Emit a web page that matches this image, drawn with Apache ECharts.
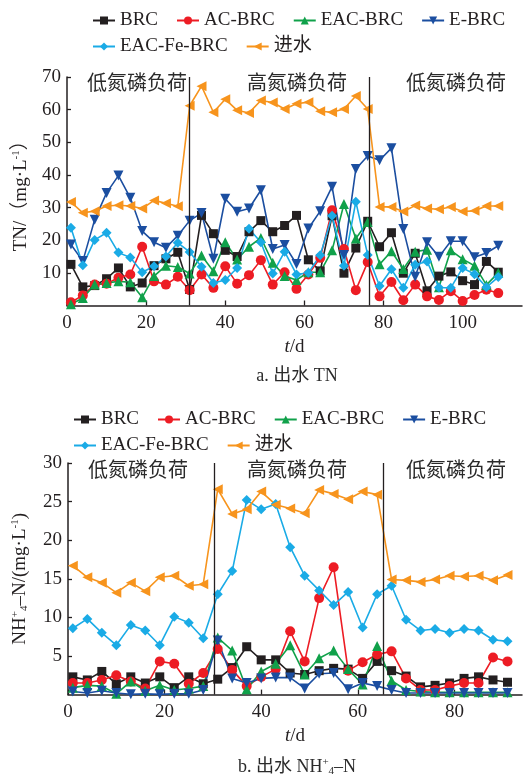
<!DOCTYPE html>
<html>
<head>
<meta charset="utf-8">
<script src="https://cdn.jsdelivr.net/npm/echarts@6/dist/echarts.min.js"></script>
<style>
  html, body { margin: 0; padding: 0; background: #fff; }
  #tn { width: 524px; height: 390px; }
  #nh { width: 524px; height: 387px; }
</style>
</head>
<body>
<div id="tn"></div>
<div id="nh"></div>
<script>
// 运行天数
const daysA = [1, 4, 7, 10, 13, 16, 19, 22, 25, 28, 31, 34, 37, 40, 43, 46, 49, 52, 55, 58, 61, 64, 67, 70, 73, 76, 79, 82, 85, 88, 91, 94, 97, 100, 103, 106, 109];
const daysB = [1, 4, 7, 10, 13, 16, 19, 22, 25, 28, 31, 34, 37, 40, 43, 46, 49, 52, 55, 58, 61, 64, 67, 70, 73, 76, 79, 82, 85, 88, 91];

const seriesNames = ['BRC', 'AC-BRC', 'EAC-BRC', 'E-BRC', 'EAC-Fe-BRC', '进水'];

// a. 出水 TN (mg/L)
const tnBRC = [12.6, 5.7, 6.1, 8.2, 11.5, 5.7, 6.9, 12.2, 14.3, 16.3, 4.9, 27.6, 22, 16.9, 15, 22.6, 26, 22.6, 24.5, 27.6, 14, 10.6, 27.5, 9.9, 17.6, 25.8, 18, 22.3, 9.9, 16, 4.5, 9, 10.3, 7.6, 6.4, 13.5, 10.2];
const tnAC = [1.0, 3.1, 6.4, 6.7, 8.5, 9.5, 18, 7.4, 6.4, 8.8, 4.7, 9.5, 5.4, 12, 6.7, 9.3, 13.9, 6.4, 10.2, 5.1, 9.5, 14.6, 29.2, 17.3, 4.7, 13.3, 2.8, 7.2, 1.6, 6.4, 2.8, 1.7, 4.4, 1.4, 3.2, 4.8, 3.8];
const tnEAC = [0.4, 2.3, 6.4, 6.9, 7.4, 7.1, 2.5, 9, 12.2, 11.8, 9.8, 15.3, 10.5, 19.4, 14.1, 18, 20.7, 13.1, 9, 7.8, 10.2, 10.2, 16.9, 31.1, 20.5, 25.6, 12.6, 16.6, 11.2, 16.5, 17.1, 5.6, 16.9, 14.2, 12.2, 6.3, 10];
const tnE = [18.7, 13.6, 26.3, 34.5, 39.8, 33, 22.8, 19.4, 17.7, 21.4, 26, 28.3, 14.3, 32.7, 28.7, 29.7, 35.3, 17.3, 18.5, 12.7, 23.6, 28.9, 36.4, 15.5, 41.8, 45.8, 44.5, 48.2, 23.4, 8.8, 19.4, 14.9, 19.7, 19.7, 14.8, 16.1, 18.3];
const tnFe = [23.8, 12.3, 20.1, 22.3, 16.2, 14.7, 10.2, 12, 15, 19.2, 16.4, 11.9, 6.9, 7.8, 11.5, 23.5, 19.4, 9.8, 16.5, 9.5, 10, 15.4, 27.5, 12.2, 31.8, 15.5, 6, 11.1, 5.4, 12.5, 13.5, 5.5, 5.4, 11.5, 9.6, 5.6, 8.7];
const tnIn = [31.7, 28.4, 28.9, 30.5, 30.7, 30.5, 29.7, 32.2, 31.3, 30.4, 61.2, 67.2, 59.2, 63.2, 59.8, 59, 62.8, 62.2, 60.2, 61.8, 62.3, 59.5, 59.2, 60.2, 64.2, 60.2, 30.2, 30.2, 28.8, 30.6, 29.7, 29.5, 30.2, 28.8, 29, 30.5, 30.5];

// b. 出水 NH4+-N (mg/L)
const nhBRC = [2.3, 1.9, 3, 1.4, 2.3, 1.5, 2.3, 0.9, 2.3, 1.4, 2, 3.5, 6.2, 4.5, 4.5, 2.8, 2.6, 3.1, 3.4, 3.3, 2.1, 4.3, 3.1, 2.4, 1, 1.2, 1.5, 2.1, 2.3, 1.9, 1.6];
const nhAC = [1.5, 1.5, 1.9, 2.5, 1.7, 0.8, 4.3, 4, 1.4, 2.8, 5.9, 3.2, 1.1, 2.3, 3.3, 8.2, 4.3, 12.5, 16.5, 3.1, 4.2, 5.2, 5.6, 2.1, 0.6, 0.6, 1.1, 1.5, 1.5, 4.8, 4.3];
const nhEAC = [0.9, 1.2, 1.1, 0.1, 1.7, 0.5, 1.2, 0.6, 0.8, 1.1, 7.4, 5.7, 0.7, 3, 4, 6.4, 2.6, 4.7, 5.7, 3.3, 1.3, 6.3, 1.8, 0.6, 0.4, 0.3, 0.3, 0.3, 0.3, 0.3, 0.3];
const nhE = [0.4, 0.2, 0.5, 0.2, 0.05, 0.1, 0.05, 0.1, 0.1, 0.6, 7, 2.1, 1.5, 2.1, 2.2, 2.2, 0.8, 2.7, 2.8, 0.7, 1.5, 1.1, 0.6, 0.2, 0.2, 0.2, 0.2, 0.2, 0.2, 0.2, 0.2];
const nhFe = [8.6, 9.8, 8, 6.4, 9, 8.3, 6.4, 10.1, 9.3, 7.3, 13, 16, 25.2, 24, 24.7, 19.1, 15.4, 13.5, 11.6, 13.3, 8.7, 13, 14.1, 9.7, 8.3, 8.5, 8, 8.5, 8.3, 7.1, 6.9];
const nhIn = [16.7, 15.2, 14.5, 13.2, 14.5, 13.4, 15.2, 15.4, 14.1, 14.3, 26.6, 23.4, 24, 26.3, 24.6, 24.1, 23.5, 26.5, 26, 25.3, 26.3, 25.9, 14.9, 14.8, 14.6, 14.9, 15.4, 15.3, 15.4, 14.8, 15.5];

// 阶段分界 (d) 与坐标轴刻度
const phaseA = [31, 76.3];
const phaseB = [30.2, 65.3];
const xTicksA = [0, 20, 40, 60, 80, 100];
const yTicksA = [10, 20, 30, 40, 50, 60, 70];
const xTicksB = [0, 20, 40, 60, 80];
const yTicksB = [5, 10, 15, 20, 25, 30];
const phaseText = ['低氮磷负荷', '高氮磷负荷', '低氮磷负荷'];

const FONT = '"Liberation Serif", "Noto Sans CJK SC", serif';
const INK = '#231f20';
const colors = ['#231f20', '#ed1c24', '#10a14a', '#1b4ea0', '#1aabe6', '#f7941d'];
const symbols = ['rect', 'circle', 'triangle', 'triangle', 'diamond', 'triangle'];
const rotates = [0, 0, 0, 180, 0, 90];
const sizes = [9, 10, 10, 10, 10, 10];

const richSS = {
  sup: { fontFamily: FONT, fontSize: 11, color: INK, verticalAlign: 'top', lineHeight: 20 },
  sub: { fontFamily: FONT, fontSize: 11, color: INK, verticalAlign: 'bottom', lineHeight: 20 },
  i: { fontFamily: FONT, fontSize: 19, color: INK, fontStyle: 'italic' }
};

function buildOption(cfg) {
  const series = cfg.values.map((vals, k) => ({
    name: seriesNames[k],
    type: 'line',
    data: vals.map((v, i) => [cfg.days[i], v]),
    symbol: symbols[k],
    symbolRotate: rotates[k],
    symbolSize: sizes[k],
    showAllSymbol: true,
    lineStyle: { color: colors[k], width: 1.6 },
    itemStyle: { color: colors[k] },
    emphasis: { disabled: true }
  }));
  series[0].markLine = {
    silent: true,
    symbol: 'none',
    label: { show: false },
    lineStyle: { color: INK, width: 1.3, type: 'solid' },
    data: cfg.phase.map(d => [{ coord: [d, 0] }, { coord: [d, cfg.yMax] }])
  };
  series[0].z = 3;

  const legendBase = {
    itemWidth: 22, itemHeight: 10, itemGap: 18, padding: 0,
    textStyle: { fontFamily: FONT, fontSize: 19, color: INK }
  };

  const textEl = (x, y, text, size) => ({
    type: 'text', x, y,
    style: {
      text, font: size + 'px ' + FONT, fill: '#2a2a2a',
      align: 'center', verticalAlign: 'middle', textAlign: 'center', textVerticalAlign: 'middle',
      rich: richSS
    }
  });

  return {
    animation: false,
    legend: [
      Object.assign({ data: seriesNames.slice(0, 4), left: cfg.legendLeft, top: cfg.legendTop }, legendBase),
      Object.assign({ data: seriesNames.slice(4), left: cfg.legendLeft, top: cfg.legendTop + 26 }, legendBase)
    ],
    grid: { left: cfg.gridLeft, right: 2, top: cfg.gridTop, height: cfg.gridH },
    xAxis: {
      type: 'value', min: 0, max: cfg.xMax, interval: 20,
      name: '{i|t}/d', nameLocation: 'middle', nameGap: cfg.nameGapX,
      nameTextStyle: { fontFamily: FONT, fontSize: 19, color: INK, rich: richSS },
      axisLine: { lineStyle: { color: INK, width: 1.5 } },
      axisTick: { inside: true, length: 5, customValues: cfg.xTicks, lineStyle: { color: INK, width: 1.3 } },
      axisLabel: { customValues: cfg.xTicks, margin: 8, fontFamily: FONT, fontSize: 19, color: INK },
      splitLine: { show: false }
    },
    yAxis: {
      type: 'value', min: 0, max: cfg.yMax,
      name: cfg.yName, nameLocation: 'middle', nameGap: cfg.nameGapY,
      nameTextStyle: { fontFamily: FONT, fontSize: 19, color: INK, rich: richSS },
      axisLine: { show: true, lineStyle: { color: INK, width: 1.5 } },
      axisTick: { show: true, inside: true, length: 4, customValues: cfg.yTicks, lineStyle: { color: INK, width: 1.3 } },
      axisLabel: { customValues: cfg.yTicks, margin: 6, fontFamily: FONT, fontSize: 19, color: INK },
      splitLine: { show: false }
    },
    graphic: [
      textEl(cfg.phaseX[0], cfg.phaseY, phaseText[0], 20),
      textEl(cfg.phaseX[1], cfg.phaseY, phaseText[1], 20),
      textEl(cfg.phaseX[2], cfg.phaseY, phaseText[2], 20),
      textEl(297, cfg.captionY, cfg.caption, 18)
    ],
    series
  };
}

const chartA = echarts.init(document.getElementById('tn'));
chartA.setOption(buildOption({
  days: daysA,
  values: [tnBRC, tnAC, tnEAC, tnE, tnFe, tnIn],
  phase: phaseA,
  xMax: 115, yMax: 70,
  xTicks: xTicksA, yTicks: yTicksA,
  gridLeft: 67, gridTop: 77, gridH: 228.5,
  legendLeft: 92, legendTop: 11,
  yName: 'TN/（mg·L{sup|-1}）', nameGapY: 36, nameGapX: 32,
  phaseX: [137, 297, 456], phaseY: 85,
  caption: 'a. 出水 TN', captionY: 376
}));

const chartB = echarts.init(document.getElementById('nh'));
chartB.setOption(buildOption({
  days: daysB,
  values: [nhBRC, nhAC, nhEAC, nhE, nhFe, nhIn],
  phase: phaseB,
  xMax: 94, yMax: 30,
  xTicks: xTicksB, yTicks: yTicksB,
  gridLeft: 68, gridTop: 73, gridH: 231.6,
  legendLeft: 73, legendTop: 20,
  yName: 'NH{sup|+}{sub|4}–N/(mg·L{sup|-1})', nameGapY: 38, nameGapX: 31,
  phaseX: [138, 297, 456], phaseY: 82,
  caption: 'b. 出水 NH{sup|+}{sub|4}–N', captionY: 377
}));
</script>
</body>
</html>
